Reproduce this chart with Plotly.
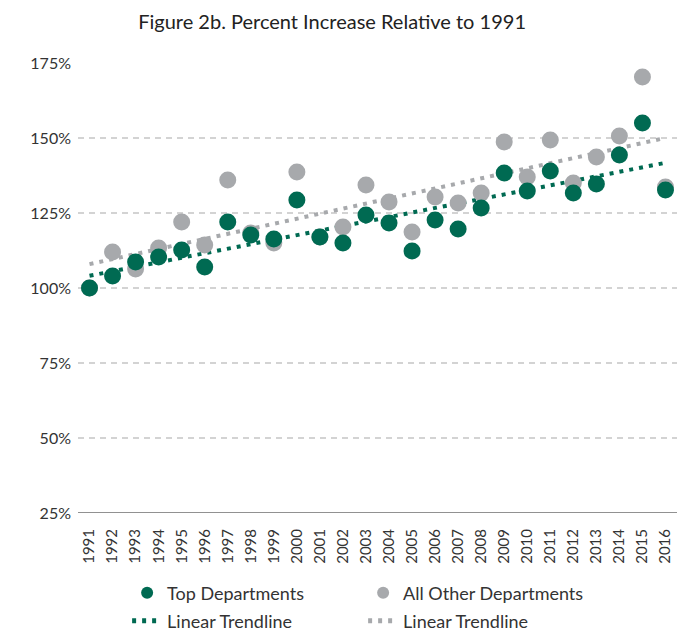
import numpy as np
import plotly.graph_objects as go

years = [str(y) for y in range(1991, 2017)]
top_departments = [100, 104, 108.7, 110.3, 112.7, 107, 122, 117.7, 116.3, 129.3,
                   117, 115, 124.3, 121.7, 112.3, 122.7, 119.7, 126.7, 138.3, 132.3,
                   139, 131.7, 134.7, 144.3, 155, 132.7]
other_departments = [100, 112, 106.3, 113.3, 122, 114.3, 136, 118.3, 115, 138.7,
                     117, 120.3, 134.3, 128.7, 118.7, 130.3, 128.3, 131.7, 148.7, 137,
                     149.3, 135, 143.7, 150.7, 170.3, 133.7]
y_ticks = [25, 50, 75, 100, 125, 150, 175]
y_tick_labels = [f"{v}%" for v in y_ticks]

GREEN = "#006a52"
GRAY = "#a7a9ac"
FONT = "Lato"

idx = np.arange(len(years))
def trend(vals):
    m, b = np.polyfit(idx, np.array(vals, dtype=float), 1)
    return list(m * idx + b)

fig = go.Figure()
fig.add_trace(go.Scatter(x=years, y=trend(top_departments), mode="lines",
                         line=dict(color=GREEN, width=4, dash="4px,6px"),
                         name="Linear Trendline", legend="legend2", legendrank=1))
fig.add_trace(go.Scatter(x=years, y=trend(other_departments), mode="lines",
                         line=dict(color=GRAY, width=4, dash="4px,6px"),
                         name="Linear Trendline", legend="legend2", legendrank=2))
fig.add_trace(go.Scatter(x=years, y=other_departments, mode="markers",
                         marker=dict(color=GRAY, size=17),
                         name="All Other Departments", legend="legend", legendrank=2))
fig.add_trace(go.Scatter(x=years, y=top_departments, mode="markers",
                         marker=dict(color=GREEN, size=17),
                         name="Top Departments", legend="legend", legendrank=1))

legend_common = dict(orientation="h", xanchor="left", yanchor="middle",
                     entrywidth=191, entrywidthmode="pixels",
                     font=dict(family=FONT, size=18, color="#333333"),
                     traceorder="normal", itemsizing="constant",
                     bgcolor="rgba(0,0,0,0)")

fig.update_layout(
    width=678, height=626,
    margin=dict(l=70, r=9, t=55, b=121, autoexpand=False),
    paper_bgcolor="white", plot_bgcolor="white",
    font=dict(family=FONT, size=16, color="#333333"),
    title=dict(text="Figure 2b. Percent Increase Relative to 1991",
               x=0.478, xanchor="center", yref="container", y=0.977, yanchor="middle",
               font=dict(family=FONT, size=20, color="#222222")),
    showlegend=True,
    legend=dict(x=0.082, y=-0.178, **legend_common),
    legend2=dict(x=0.082, y=-0.240, **legend_common),
)
fig.update_xaxes(type="category", tickangle=-90, showgrid=False,
                 showline=False, ticks="", tickfont=dict(size=15),
                 range=[-0.5, 25.5], ticklabelstandoff=12, automargin=False)
fig.update_yaxes(range=[25, 175], tickvals=y_ticks, ticktext=y_tick_labels,
                 showgrid=True, gridcolor="#d3d3d3", griddash="6px,5px", gridwidth=1.5,
                 zeroline=False, showline=False, ticks="", tickfont=dict(size=16),
                 ticklabelstandoff=6, automargin=False)
fig.add_hline(y=25, line=dict(color="#6d6d6d", width=1.5))

fig.write_html("out.html")
